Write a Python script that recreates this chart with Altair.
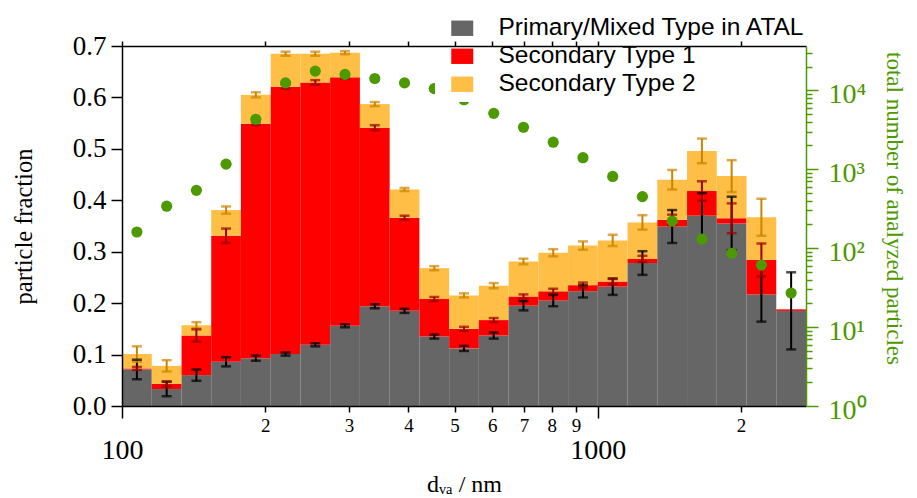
import math
import altair as alt
import pandas as pd

# ---------------- data ----------------
bin_edges = [100, 115.5, 133.4, 154.0, 177.8, 205.4, 237.1, 273.8, 316.2, 365.2,
             421.7, 487.0, 562.3, 649.4, 749.9, 866.0, 1000, 1154.8, 1333.5,
             1539.9, 1778.3, 2053.5, 2371.4, 2738.4]

types = ["Primary/Mixed Type in ATAL", "Secondary Type 1", "Secondary Type 2"]

primary = [0.071, 0.033, 0.060, 0.086, 0.093, 0.101, 0.119, 0.156, 0.194, 0.185,
           0.135, 0.112, 0.137, 0.195, 0.205, 0.223, 0.232, 0.278, 0.349, 0.370,
           0.355, 0.217, 0.185]
secondary1 = [0.002, 0.010, 0.077, 0.245, 0.456, 0.520, 0.510, 0.483, 0.347, 0.181,
              0.073, 0.038, 0.030, 0.018, 0.018, 0.012, 0.010, 0.008, 0.013, 0.048,
              0.010, 0.067, 0.003]
secondary2 = [0.028, 0.035, 0.020, 0.050, 0.056, 0.064, 0.056, 0.048, 0.046, 0.055,
              0.060, 0.065, 0.067, 0.068, 0.075, 0.077, 0.080, 0.071, 0.078, 0.078,
              0.082, 0.083, 0.000]

primary_err = [0.019, 0.014, 0.011, 0.009, 0.005, 0.003, 0.003, 0.003, 0.004, 0.004,
               0.004, 0.005, 0.006, 0.009, 0.011, 0.012, 0.016, 0.023, 0.032, 0.044,
               0.052, 0.053, 0.075]
secondary1_err = [0.003, 0.005, 0.012, 0.014, 0.003, 0.004, 0.0045, 0.003, 0.005, 0.004,
                  0.004, 0.004, 0.004, 0.004, 0.005, 0.005, 0.005, 0.006, 0.010, 0.019,
                  0.029, 0.032, 0.0]
secondary2_err = [0.015, 0.011, 0.006, 0.007, 0.005, 0.004, 0.004, 0.003, 0.004, 0.003,
                  0.004, 0.004, 0.005, 0.0055, 0.007, 0.008, 0.011, 0.014, 0.019, 0.024,
                  0.031, 0.036, 0.0]

total_counts = [160, 340, 540, 1160, 4300, 12400, 17500, 15900, 14100, 12400,
                10500, 7600, 5100, 3400, 2200, 1400, 810, 450, 220, 130,
                86, 61, 27]

bar_colors = ["#666666", "#ff0000", "#ffbe45"]
err_colors = ["#000000", "#990000", "#cc8400"]
green = "#4c9900"

x_ticks = [100, 200, 300, 400, 500, 600, 700, 800, 900, 1000, 2000]
y_ticks = [0.0, 0.1, 0.2, 0.3, 0.4, 0.5, 0.6, 0.7]
right_ticks = [m * 10 ** k for k in range(5) for m in range(1, 10) if m * 10 ** k <= 30000]

# ---------------- tables ----------------
bar_rows, err_rows, pt_rows = [], [], []
fracs = [primary, secondary1, secondary2]
errs = [primary_err, secondary1_err, secondary2_err]
for i in range(len(primary)):
    x0, x1 = bin_edges[i], bin_edges[i + 1]
    xc = math.sqrt(x0 * x1)
    lo = 0.0
    for k, t in enumerate(types):
        hi = lo + fracs[k][i]
        bar_rows.append(dict(x0=x0, x1=x1, type=t, lo=lo, hi=hi))
        e = errs[k][i]
        if e > 0:
            err_rows.append(dict(xc=xc, elo=hi - e, ehi=hi + e, ecolor=err_colors[k]))
        lo = hi
    pt_rows.append(dict(xc=xc, count=total_counts[i]))

bar_df = pd.DataFrame(bar_rows)
err_df = pd.DataFrame(err_rows)
pt_df = pd.DataFrame(pt_rows)

SERIF = "Liberation Serif"
SANS = "Liberation Sans"


def xscale():
    return alt.Scale(type="log", domain=[bin_edges[0], bin_edges[-1]], nice=False)


def yscale():
    return alt.Scale(domain=[0, 0.7], nice=False, zero=True)


major_x = "datum.value == 100 || datum.value == 1000"
bottom_axis = alt.Axis(
    orient="bottom",
    values=x_ticks,
    labelExpr="datum.value == 100 ? '100' : datum.value == 1000 ? '1000' : "
              "datum.value < 1000 ? toString(round(datum.value / 100)) : toString(round(datum.value / 1000))",
    labelFont=SERIF,
    labelFontSize={"condition": {"test": major_x, "value": 28}, "value": 19},
    labelPadding={"condition": {"test": major_x, "value": 18}, "value": 4},
    tickSize={"condition": {"test": major_x, "value": 12}, "value": 6},
    labelColor="black", tickColor="black", domainColor="black",
    tickWidth=1.5, domainWidth=1.5,
    labelOverlap=False, labelFlush=False, labelBaseline="top",
    grid=False, zindex=1,
    title="dᵥₐ / nm", titleFont=SERIF, titleFontSize=24, titleFontWeight="normal",
    titleColor="black", titlePadding=8,
)
top_axis = alt.Axis(
    orient="top", values=x_ticks, labels=False, tickSize=5, tickColor="black",
    domainColor="black", tickWidth=1.5, domainWidth=1.5, grid=False, zindex=1, title=None,
)
left_axis = alt.Axis(
    orient="left",
    values=y_ticks, format=".1f", labelFont=SERIF, labelFontSize=27, labelColor="black",
    tickSize=11, labelPadding=5, tickColor="black", domainColor="black",
    tickWidth=1.5, domainWidth=1.5, grid=False, zindex=1,
    title="particle fraction", titleFont=SERIF, titleFontSize=24.5,
    titleFontWeight="normal", titleColor="black", titlePadding=36,
)
major_r = "datum.value == 1 || datum.value == 10 || datum.value == 100 || datum.value == 1000 || datum.value == 10000"
right_axis = alt.Axis(
    orient="right", values=right_ticks,
    labelExpr="datum.value == 1 ? '10⁰' : datum.value == 10 ? '10¹' : datum.value == 100 ? '10²' : "
              "datum.value == 1000 ? '10³' : datum.value == 10000 ? '10⁴' : ''",
    labelFont=SERIF, labelFontSize=28, labelColor=green,
    tickSize={"condition": {"test": major_r, "value": 12}, "value": 6},
    labelPadding=10, labelOffset=4,
    tickColor=green, domainColor=green, tickWidth=1.5, domainWidth=1.5,
    labelOverlap=False, labelFlush=False, grid=False, zindex=1,
    title="total number of analyzed particles", titleFont=SERIF, titleFontSize=23,
    titleFontWeight="normal", titleColor=green, titlePadding=15, titleY=162,
)

legend = alt.Legend(
    orient="none", legendX=313, legendY=-36, title=None,
    fillColor="white", padding=6, symbolOffset=9,
    symbolType="M-1,-0.7H1V0.7H-1Z", symbolSize=484, symbolStrokeWidth=0,
    labelFont=SANS, labelFontSize=24.5, labelColor="black", labelOffset=24,
    rowPadding=3, labelLimit=400,
)

bars = alt.Chart(bar_df).mark_rect().encode(
    x=alt.X("x0:Q", scale=xscale(), axis=bottom_axis),
    x2="x1:Q",
    y=alt.Y("lo:Q", scale=yscale(), axis=left_axis),
    y2="hi:Q",
    color=alt.Color("type:N", scale=alt.Scale(domain=types, range=bar_colors), legend=legend),
)

whiskers = alt.Chart(err_df).mark_rule(strokeWidth=2).encode(
    x=alt.X("xc:Q", scale=xscale(), axis=top_axis),
    y=alt.Y("elo:Q", scale=yscale(), axis=None),
    y2="ehi:Q",
    color=alt.Color("ecolor:N", scale=None, legend=None),
)
caps_lo = alt.Chart(err_df).mark_tick(orient="horizontal", size=10, thickness=2.5).encode(
    x=alt.X("xc:Q", scale=xscale(), axis=None),
    y=alt.Y("elo:Q", scale=yscale(), axis=None),
    color=alt.Color("ecolor:N", scale=None, legend=None),
)
caps_hi = alt.Chart(err_df).mark_tick(orient="horizontal", size=10, thickness=2.5).encode(
    x=alt.X("xc:Q", scale=xscale(), axis=None),
    y=alt.Y("ehi:Q", scale=yscale(), axis=None),
    color=alt.Color("ecolor:N", scale=None, legend=None),
)

points = alt.Chart(pt_df).mark_circle(size=125, opacity=1, color=green).encode(
    x=alt.X("xc:Q", scale=xscale(), axis=None),
    y=alt.Y("count:Q", scale=alt.Scale(type="log", domain=[1, 36400], nice=False), axis=right_axis),
)

chart = alt.layer(bars, whiskers, caps_lo, caps_hi, points).resolve_scale(
    y="independent"
).resolve_axis(x="independent").properties(
    width=684, height=360,
    autosize=alt.AutoSizeParams(type="none"),
    padding={"left": 114, "top": 38, "right": 103, "bottom": 92},
    background="white",
).configure_view(stroke=None)

chart.save("out.html", embed_options={"renderer": "svg", "actions": False})
